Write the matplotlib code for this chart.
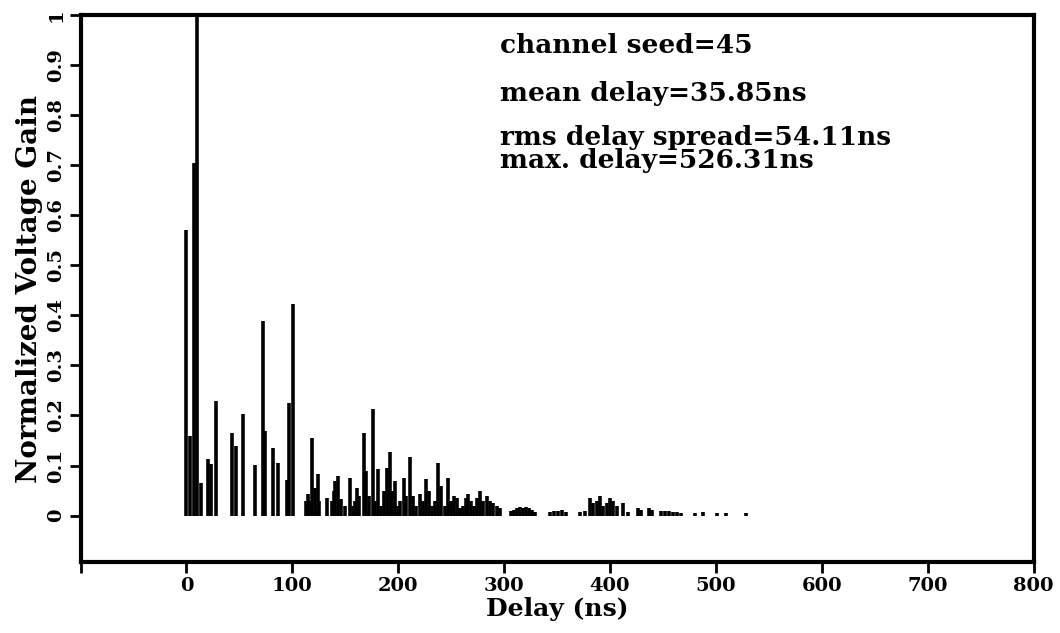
import numpy as np
import matplotlib
matplotlib.use('Agg')
import matplotlib.pyplot as plt

delays = [0, 3, 7.5, 10, 14, 20, 23.5, 28, 43, 47, 53, 65, 72.5, 74.5, 82, 86, 95, 97, 101,
          113, 115, 117, 119, 121, 124, 125.5, 133, 137, 139, 140.5, 143.5, 146, 150, 154,
          157, 159, 161, 163, 168, 170, 172.5, 176, 178, 181, 184, 187, 189, 192.5, 194,
          197, 200, 202, 205, 207.5, 211, 214, 217, 221, 223.5, 226.5, 229, 232, 235,
          237.5, 240.5, 244, 247, 250, 253, 255.5, 258.5, 261, 264, 266, 269, 271.5,
          274.5, 277, 280, 284, 287, 289.5, 293, 296,
          306.5, 309.5, 312, 315, 318, 321, 323.5, 326.5, 329, 343, 347, 351, 355, 358.5,
          372, 376, 381, 384, 388, 390.5, 393, 397, 400, 403, 406.5, 412, 417, 426, 429,
          437, 439.5, 448, 452, 455.5, 459.5, 463, 467, 480, 488, 501, 510, 528]
gains = [0.57, 0.16, 0.705, 1.0, 0.066, 0.114, 0.104, 0.228, 0.166, 0.14, 0.202, 0.102, 0.388, 0.17,
         0.136, 0.106, 0.072, 0.224, 0.422,
         0.03, 0.044, 0.03, 0.156, 0.056, 0.084, 0.03, 0.036, 0.03, 0.05, 0.07, 0.08, 0.034, 0.02,
         0.076, 0.02, 0.03, 0.056, 0.04, 0.166, 0.09, 0.04, 0.212, 0.03, 0.094, 0.02, 0.05,
         0.096, 0.128, 0.05, 0.07, 0.02, 0.03, 0.076, 0.04, 0.118, 0.04, 0.02, 0.044, 0.03,
         0.074, 0.05, 0.02, 0.03, 0.106, 0.06, 0.02, 0.076, 0.03, 0.04, 0.036, 0.015, 0.02,
         0.035, 0.044, 0.03, 0.02, 0.035, 0.05, 0.03, 0.04, 0.03, 0.025, 0.02, 0.015,
         0.01, 0.012, 0.015, 0.018, 0.016, 0.018, 0.015, 0.012, 0.008, 0.008, 0.01, 0.01,
         0.012, 0.008, 0.008, 0.01, 0.035, 0.025, 0.03, 0.04, 0.02, 0.025, 0.035, 0.03, 0.02,
         0.026, 0.008, 0.015, 0.012, 0.015, 0.012, 0.01, 0.01, 0.01, 0.008, 0.008, 0.006,
         0.006, 0.008, 0.006, 0.006, 0.006]

info_lines = ['channel seed=45', 'mean delay=35.85ns', 'rms delay spread=54.11ns', 'max. delay=526.31ns']
info_y = [0.945, 0.856, 0.777, 0.735]

xticks = [0, 100, 200, 300, 400, 500, 600, 700, 800]
yticks = [0, 0.1, 0.2, 0.3, 0.4, 0.5, 0.6, 0.7, 0.8, 0.9, 1]
ytick_labels = ['0', '0.1', '0.2', '0.3', '0.4', '0.5', '0.6', '0.7', '0.8', '0.9', '1']

plt.rcParams['font.family'] = 'DejaVu Serif'
plt.rcParams['font.weight'] = 'bold'

fig = plt.figure(figsize=(10.6, 6.33), dpi=100)
ax = fig.add_axes([0.076, 0.112, 0.899, 0.864])

ax.vlines(delays, 0, gains, colors='black', linewidth=2.6)

ax.set_xlim(-100, 800)
ax.set_ylim(-0.093, 1.0)

ax.set_xticks([-100] + xticks)
ax.set_xticklabels([''] + [str(t) for t in xticks], fontsize=14, fontweight='heavy')
ax.set_yticks(yticks)
ax.set_yticklabels(ytick_labels, fontsize=14, fontweight='heavy', rotation=90, va='center')
ax.tick_params(direction='out', length=8, width=2, pad=3)

for s in ax.spines.values():
    s.set_linewidth(3)

ax.set_xlabel('Delay (ns)', fontsize=18, fontweight='bold', labelpad=1)
ax.set_ylabel('Normalized Voltage Gain', fontsize=20, fontweight='bold', labelpad=3)

for txt, yy in zip(info_lines, info_y):
    ax.text(0.44, yy, txt, transform=ax.transAxes, fontsize=19, fontweight='bold', va='center')

fig.savefig('out.png', dpi=100)
